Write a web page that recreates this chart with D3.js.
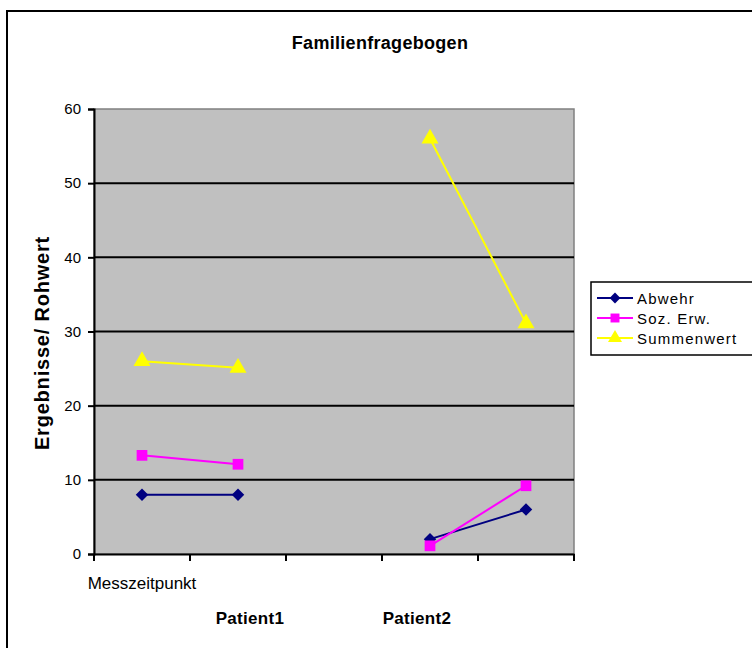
<!DOCTYPE html>
<html>
<head>
<meta charset="utf-8">
<script src="https://cdn.jsdelivr.net/npm/d3@7"></script>
<style>
  html, body { margin: 0; padding: 0; background: #fff; }
  svg { display: block; font-family: "Liberation Sans", Arial, sans-serif; }
</style>
</head>
<body>
<svg id="chart" width="752" height="648"></svg>
<script>
// ---- data ----
const categories = ["M1", "M2", "gap", "M3", "M4"];
const abwehr     = [8, 8, null, 2, 6];
const sozErw     = [13.3, 12.1, null, 1.1, 9.2];
const summenwert = [26, 25.1, null, 56, 31.1];
const seriesNames = ["Abwehr", "Soz. Erw.", "Summenwert"];
const yTicks = [0, 10, 20, 30, 40, 50, 60];
const patientLabels = ["Patient1", "Patient2"];
const chartTitle = "Familienfragebogen";
const yTitle = "Ergebnisse/ Rohwert";
const firstCategoryLabel = "Messzeitpunkt";

const series = [
  { name: seriesNames[0], values: abwehr, color: "#000080", shape: d3.symbolDiamond2, size: 100, lsize: 75 },
  { name: seriesNames[1], values: sozErw, color: "#FF00FF", shape: d3.symbolSquare, size: 115, lsize: 80 },
  { name: seriesNames[2], values: summenwert, color: "#FFFF00", shape: d3.symbolTriangle, size: 125, lsize: 85 }
];

const svg = d3.select("#chart");

// outer chart border (clipped at right and bottom)
svg.append("rect")
  .attr("x", 7).attr("y", 11).attr("width", 800).attr("height", 700)
  .attr("fill", "#fff").attr("stroke", "#000").attr("stroke-width", 2);

const plot = { left: 94, right: 574, top: 109, bottom: 554 };

const x = d3.scaleBand().domain(categories).range([plot.left, plot.right]);
const y = d3.scaleLinear().domain([0, 60]).range([plot.bottom, plot.top]);

// plot area
svg.append("rect")
  .attr("x", plot.left).attr("y", plot.top)
  .attr("width", plot.right - plot.left).attr("height", plot.bottom - plot.top)
  .attr("fill", "#C0C0C0").attr("stroke", "#808080").attr("stroke-width", 1.5);

// gridlines
svg.append("g")
  .selectAll("line")
  .data(yTicks.filter(t => t > 0 && t < 60))
  .join("line")
  .attr("x1", plot.left).attr("x2", plot.right)
  .attr("y1", d => y(d)).attr("y2", d => y(d))
  .attr("stroke", "#000").attr("stroke-width", 2);

// y axis
const yAxis = svg.append("g")
  .attr("transform", `translate(${plot.left},0)`)
  .call(d3.axisLeft(y).tickValues(yTicks).tickSize(6).tickPadding(7));
yAxis.select(".domain").attr("stroke", "#000").attr("stroke-width", 2);
yAxis.selectAll(".tick line").attr("stroke", "#000").attr("stroke-width", 2);
yAxis.selectAll(".tick text")
  .attr("font-family", "Liberation Sans, Arial, sans-serif")
  .attr("font-size", 15).attr("fill", "#000");

// x axis (ticks at band boundaries)
const xAxis = svg.append("g")
  .attr("transform", `translate(0,${plot.bottom})`)
  .call(d3.axisBottom(x).tickSize(0).tickFormat(""));
xAxis.select(".domain").attr("stroke", "#000").attr("stroke-width", 2);
xAxis.selectAll(".tick").remove();
const boundaries = categories.map(c => x(c)).concat([x(categories[categories.length - 1]) + x.bandwidth()]);
xAxis.selectAll("line.bt")
  .data(boundaries)
  .join("line")
  .attr("class", "bt")
  .attr("x1", d => d).attr("x2", d => d)
  .attr("y1", 0).attr("y2", 7)
  .attr("stroke", "#000").attr("stroke-width", 2);

// category label
svg.append("text")
  .attr("x", x(categories[0]) + x.bandwidth() / 2).attr("y", 589)
  .attr("text-anchor", "middle").attr("font-size", 17).attr("fill", "#000")
  .text(firstCategoryLabel);

// patient labels
const patientX = [250, 417];
svg.selectAll("text.patient")
  .data(patientLabels)
  .join("text")
  .attr("class", "patient")
  .attr("x", (d, i) => patientX[i]).attr("y", 624)
  .attr("text-anchor", "middle").attr("font-size", 17).attr("font-weight", "bold")
  .attr("letter-spacing", 0.3)
  .attr("fill", "#000")
  .text(d => d);

// title
svg.append("text")
  .attr("x", 380).attr("y", 49)
  .attr("text-anchor", "middle").attr("font-size", 18).attr("font-weight", "bold")
  .attr("letter-spacing", 0.3)
  .text(chartTitle);

// y title
svg.append("text")
  .attr("transform", "translate(49,343) rotate(-90)")
  .attr("text-anchor", "middle").attr("font-size", 20).attr("font-weight", "bold")
  .attr("letter-spacing", 0.8)
  .text(yTitle);

// lines & markers
const cx = c => x(c) + x.bandwidth() / 2;
const line = d3.line()
  .defined(d => d.v !== null)
  .x(d => cx(d.c))
  .y(d => y(d.v));

series.forEach(s => {
  const pts = categories.map((c, i) => ({ c, v: s.values[i] }));
  svg.append("path")
    .datum(pts)
    .attr("d", line)
    .attr("fill", "none").attr("stroke", s.color).attr("stroke-width", 2);
  svg.append("g")
    .selectAll("path")
    .data(pts.filter(d => d.v !== null))
    .join("path")
    .attr("transform", d => `translate(${cx(d.c)},${y(d.v)})`)
    .attr("d", d3.symbol().type(s.shape).size(s.size))
    .attr("fill", s.color);
});

// legend
const legend = svg.append("g");
legend.append("rect")
  .attr("x", 591).attr("y", 282).attr("width", 200).attr("height", 73)
  .attr("fill", "#fff").attr("stroke", "#000").attr("stroke-width", 1.5);
const itemY = [298, 318, 338];
series.forEach((s, i) => {
  const g = legend.append("g").attr("transform", `translate(0,${itemY[i]})`);
  g.append("line").attr("x1", 597).attr("x2", 633).attr("y1", 0).attr("y2", 0)
    .attr("stroke", s.color).attr("stroke-width", 2);
  g.append("path").attr("transform", "translate(615,0)")
    .attr("d", d3.symbol().type(s.shape).size(s.lsize))
    .attr("fill", s.color);
  g.append("text").attr("x", 637).attr("y", 5.5)
    .attr("font-size", 15).attr("letter-spacing", 1.2).attr("fill", "#000")
    .text(s.name);
});
</script>
</body>
</html>
